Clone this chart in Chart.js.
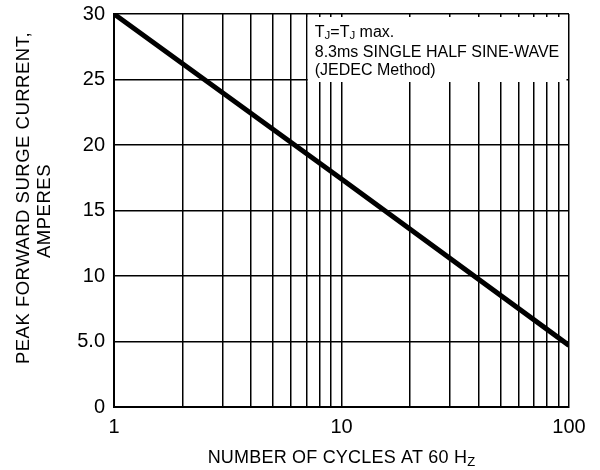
<!DOCTYPE html>
<html><head><meta charset="utf-8">
<script src="https://cdn.jsdelivr.net/npm/chart.js@4.4.0/dist/chart.umd.min.js"></script>
<style>html,body{margin:0;padding:0;background:#fff}</style>
</head><body>
<div style="width:600px;height:470px;position:relative"><canvas id="c" width="600" height="470"></canvas></div>
<script>
// ---- data ----
const cycles = [1, 10, 100];
const surgeCurrent = [30, 17.4, 4.7];
const xGridValues = [1, 2, 3, 4, 5, 6, 7, 8, 9, 10, 20, 30, 40, 50, 60, 70, 80, 90, 100];
const xLabeledValues = [1, 10, 100];
const xTickLabels = ['1', '10', '100'];
const yTickValues = [0, 5, 10, 15, 20, 25, 30];
const yTickLabels = ['0', '5.0', '10', '15', '20', '25', '30'];
const xTitleMain = 'NUMBER OF CYCLES AT 60 H';
const xTitleSub = 'Z';
const yTitleLines = ['PEAK FORWARD SURGE CURRENT,', 'AMPERES'];
const noteLine1 = [['T', false], ['J', true], ['=T', false], ['J', true], [' max.', false]];
const noteLine2 = '8.3ms SINGLE HALF SINE-WAVE';
const noteLine3 = '(JEDEC Method)';

const FONT = '"Liberation Sans", Arial, Helvetica, sans-serif';

const decorPlugin = {
  id: 'decor',
  beforeDatasetsDraw(chart) {
    const ctx = chart.ctx, xs = chart.scales.x, ys = chart.scales.y, ca = chart.chartArea;
    const left = xs.getPixelForValue(7) + 1.5;
    const right = xs.getPixelForValue(100) - 2.5;
    const top = ca.top + 3;
    const bottom = ys.getPixelForValue(25) + 2.5;
    ctx.save();
    ctx.fillStyle = '#fff';
    ctx.fillRect(left, top, right - left, bottom - top);
    ctx.fillStyle = '#000';
    ctx.textBaseline = 'alphabetic';
    ctx.textAlign = 'left';
    let x = left + 7;
    const base1 = ca.top + 23;
    for (const [t, sub] of noteLine1) {
      ctx.font = (sub ? '11.5px ' : '16px ') + FONT;
      ctx.fillText(t, x, base1 + (sub ? 2 : 0));
      x += ctx.measureText(t).width;
    }
    ctx.font = '16px ' + FONT;
    ctx.fillText(noteLine2, left + 7, base1 + 20);
    ctx.fillText(noteLine3, left + 7, base1 + 38);
    ctx.restore();
  },
  afterDraw(chart) {
    const ctx = chart.ctx, ca = chart.chartArea;
    ctx.save();
    ctx.fillStyle = '#000';
    ctx.textBaseline = 'alphabetic';
    // x title
    ctx.font = '18px ' + FONT;
    ctx.letterSpacing = '0.2px';
    const w1 = ctx.measureText(xTitleMain).width;
    ctx.font = '13px ' + FONT;
    const w2 = ctx.measureText(xTitleSub).width;
    const cx = (ca.left + ca.right) / 2;
    let sx = cx - (w1 + w2) / 2;
    ctx.font = '18px ' + FONT;
    ctx.fillText(xTitleMain, sx, 463);
    ctx.font = '13px ' + FONT;
    ctx.fillText(xTitleSub, sx + w1, 466);
    // y title
    ctx.font = '18.5px ' + FONT;
    ctx.letterSpacing = '0.5px';
    ctx.textAlign = 'center';
    ctx.textBaseline = 'middle';
    const offs = [[24, 198], [45, 211]];
    yTitleLines.forEach((t, i) => {
      ctx.save();
      ctx.translate(offs[i][0], offs[i][1]);
      ctx.rotate(-Math.PI / 2);
      ctx.fillText(t, 0, 0);
      ctx.restore();
    });
    ctx.restore();
  }
};

new Chart(document.getElementById('c'), {
  type: 'line',
  data: {
    datasets: [{
      data: cycles.map((c, i) => ({ x: c, y: surgeCurrent[i] })),
      borderColor: '#000',
      borderWidth: 5,
      borderCapStyle: 'butt',
      pointRadius: 0,
      tension: 0,
      fill: false
    }]
  },
  options: {
    responsive: false,
    animation: false,
    devicePixelRatio: 1,
    layout: { padding: { top: 14, right: 31, left: 0, bottom: 0 } },
    plugins: { legend: { display: false }, tooltip: { enabled: false }, title: { display: false } },
    scales: {
      x: {
        type: 'logarithmic',
        min: 1, max: 100,
        afterBuildTicks(s) { s.ticks = xGridValues.map(v => ({ value: v })); },
        afterFit(s) { s.height = 63; s.paddingLeft = 0; s.paddingRight = 0; },
        ticks: {
          autoSkip: false, maxRotation: 0, minRotation: 0, padding: 8,
          color: '#000', font: { family: FONT, size: 20 },
          callback(v) { const i = xLabeledValues.indexOf(v); return i >= 0 ? xTickLabels[i] : ''; }
        },
        grid: { color: '#000', lineWidth: 1.5, drawTicks: false },
        border: { color: '#000', width: 2 }
      },
      y: {
        min: 0, max: 30,
        afterBuildTicks(s) { s.ticks = yTickValues.map(v => ({ value: v })); },
        afterFit(s) { s.width = 114; s.paddingTop = 0; s.paddingBottom = 0; },
        ticks: {
          padding: 9, color: '#000', font: { family: FONT, size: 20 },
          callback(v) { const i = yTickValues.indexOf(v); return i >= 0 ? yTickLabels[i] : ''; }
        },
        grid: { color: '#000', lineWidth: 1.5, drawTicks: false },
        border: { color: '#000', width: 2 }
      }
    }
  },
  plugins: [decorPlugin]
});
</script>
</body></html>
